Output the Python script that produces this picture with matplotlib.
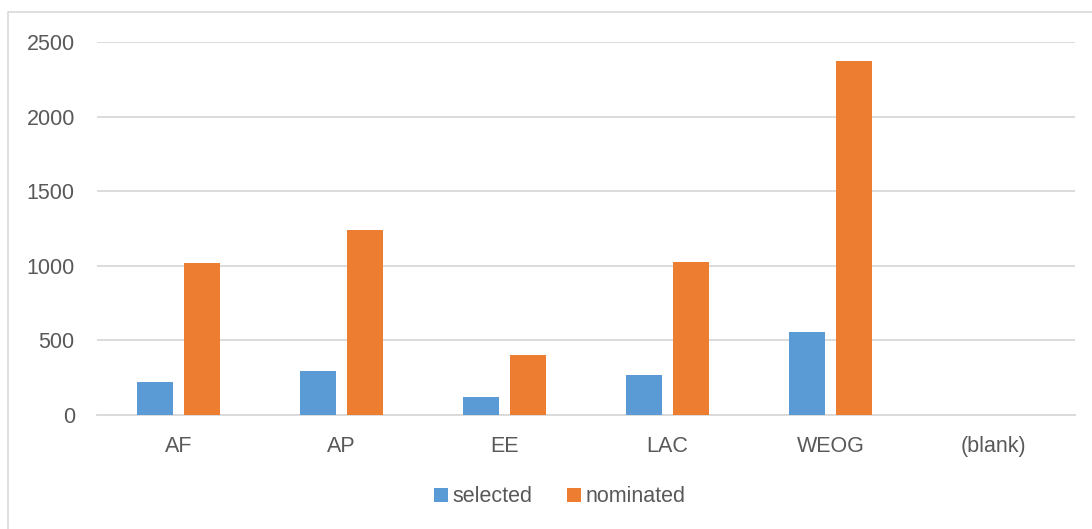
import numpy as np
import matplotlib.pyplot as plt
from matplotlib.lines import Line2D

# data
regions = ["AF", "AP", "EE", "LAC", "WEOG", "(blank)"]
selected = [218, 295, 123, 266, 558, 0]
nominated = [1020, 1243, 404, 1024, 2373, 0]
yticks = [0, 500, 1000, 1500, 2000, 2500]

blue = "#5B9BD5"
orange = "#ED7D31"
grid_col = "#D9D9D9"
text_col = "#595959"

plt.rcParams["font.family"] = ["Liberation Sans", "DejaVu Sans"]

fig = plt.figure(figsize=(10.92, 5.29), dpi=100)
W, H = 1092, 529
ax = fig.add_axes([97 / W, 1 - 415 / H, (1075 - 97) / W, (415 - 42) / H])

# outer chart border: only top and left edges are inside the image
bx, by = 8 / W, 1 - 12 / H
fig.lines.append(Line2D([bx, bx, 1], [0, by, by], transform=fig.transFigure,
                        color=grid_col, linewidth=1.2))

x = np.arange(len(regions))
bw = 0.222
off = 0.144
ax.bar(x - off, selected, bw, color=blue, label="selected", zorder=3)
ax.bar(x + off, nominated, bw, color=orange, label="nominated", zorder=3)

ax.set_xlim(-0.5, len(regions) - 0.5)
ax.set_ylim(0, 2500)
ax.set_yticks(yticks)
ax.set_xticks(x)
ax.set_xticklabels(regions)
ax.yaxis.grid(True, color=grid_col, linewidth=1.3, zorder=0)
ax.set_axisbelow(True)
for s in ["top", "right", "left"]:
    ax.spines[s].set_visible(False)
ax.spines["bottom"].set_color(grid_col)
ax.spines["bottom"].set_linewidth(1.3)
ax.tick_params(axis="both", length=0, labelsize=15.5, colors=text_col)
ax.tick_params(axis="y", pad=16)
ax.tick_params(axis="x", pad=15)

fig.legend(loc="center", bbox_to_anchor=(560 / W, 1 - 497 / H), ncol=2,
           frameon=False, fontsize=15.5, labelcolor=text_col,
           handlelength=0.65, handleheight=0.65, handletextpad=0.2,
           columnspacing=1.6)

fig.savefig("out.png", dpi=100)
